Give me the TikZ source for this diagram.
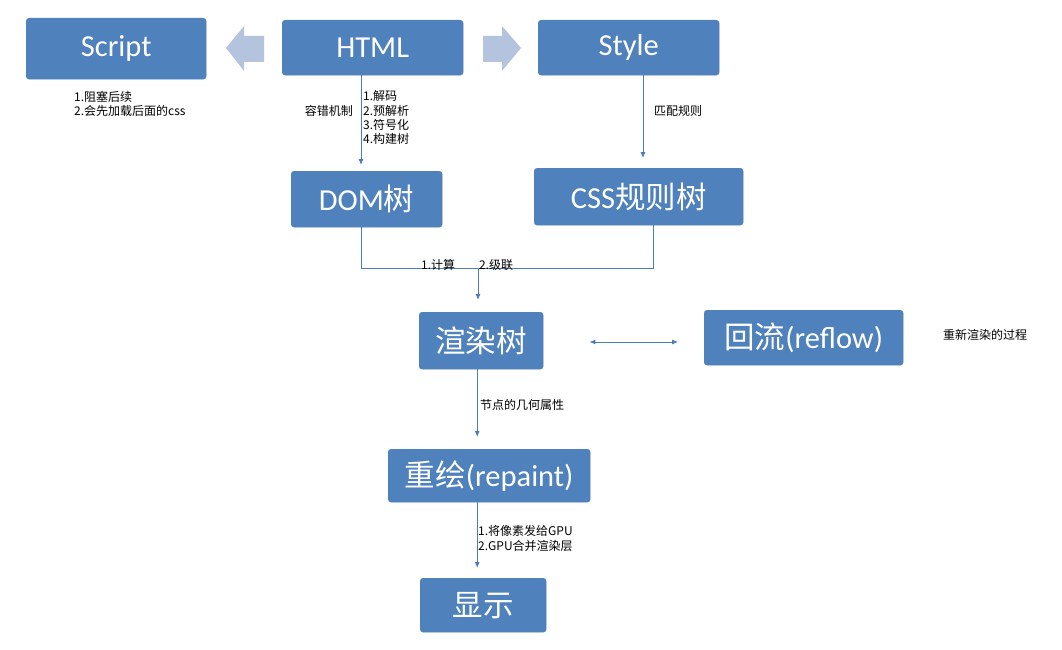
\documentclass[tikz,border=0pt]{standalone}
\usepackage{fontspec}
\setmainfont{Carlito}
\newfontfamily\cjk{Noto Sans CJK SC}
\usetikzlibrary{arrows.meta,calc}
\definecolor{boxblue}{HTML}{4F81BD}
\definecolor{lineblue}{HTML}{4A7EBB}
\definecolor{arrowpale}{HTML}{B4C3DE}
\tikzset{
  box/.style={draw=boxblue, fill=boxblue, rounded corners=3pt, text=white,
    font=\fontsize{30.5}{33}\selectfont, inner sep=0pt, anchor=north west},
  conn/.style={draw=lineblue, line width=0.9pt, -{Latex[length=6pt,width=5pt]}},
  plain/.style={draw=lineblue, line width=0.9pt},
  small/.style={font=\cjk\fontsize{12}{14}\selectfont, inner sep=0pt, anchor=west, text=black},
}
\begin{document}
\begin{tikzpicture}[x=1pt,y=-1pt]
\useasboundingbox (0,0) rectangle (1062,650);
% boxes
\node[box, minimum width=180pt, minimum height=61pt] (script) at (26,18) {Script};
\node[box, minimum width=181pt, minimum height=55pt] (html) at (282,20) {HTML};
\node[box, minimum width=181pt, minimum height=55pt] (style) at (538,20) {Style};
\node[box, minimum width=151pt, minimum height=56pt] (dom) at (291,171) {DOM{\cjk 树}};
\node[box, minimum width=209pt, minimum height=57pt] (css) at (534,168) {CSS{\cjk 规则树}};
\node[box, minimum width=124pt, minimum height=57pt] (render) at (419,312) {\cjk 渲染树};
\node[box, minimum width=199pt, minimum height=55pt] (reflow) at (704,310) {{\cjk 回流}(reflow)};
\node[box, minimum width=202pt, minimum height=53pt] (repaint) at (388,449) {{\cjk 重绘}(repaint)};
\node[box, minimum width=126pt, minimum height=54pt] (show) at (420,578) {\cjk 显示};
% block arrows
\fill[arrowpale] (226,48) -- (244,26) -- (244,36) -- (264,36) -- (264,62) -- (244,62) -- (244,71) -- cycle;
\fill[arrowpale] (521,48) -- (502,26) -- (502,36) -- (483,36) -- (483,62) -- (502,62) -- (502,71) -- cycle;
% helper coordinates
\coordinate (xa) at (361,0);
\coordinate (xb) at (643,0);
\coordinate (xc) at (653,0);
\coordinate (xd) at (478,0);
\coordinate (ya) at (0,268);
% connectors
\draw[conn, shorten >=6pt] (html.south -| xa) -- (dom.north -| xa);
\draw[conn, shorten >=10pt] (style.south -| xb) -- (css.north -| xb);
\draw[plain] (dom.south -| xa) -- (ya -| xa) -- (ya -| xc) -- (css.south -| xc);
\coordinate (join) at (ya -| xd);
\draw[conn, shorten >=12pt] (join) -- (render.north -| xd);
\draw[draw=lineblue, line width=0.9pt, {Latex[length=6pt,width=5pt]}-{Latex[length=6pt,width=5pt]}, shorten <=46pt, shorten >=26pt] (render.east |- 0,342) -- (reflow.west |- 0,342);
\draw[conn, shorten >=12pt] ($(render.south)+(-4,0)$) -- ($(repaint.north)+(-12,0)$);
\draw[conn, shorten >=10pt] ($(repaint.south)+(-12,0)$) -- ($(show.north)+(-6,0)$);
% small labels
\node[small] (s1) at (74,97) {1.阻塞后续};
\node[small] (s2) at (74,111) {2.会先加载后面的css};
\node[small, anchor=east] (h0) at (353,111) {容错机制};
\node[small] (h1) at (363,96) {1.解码};
\node[small] (h2) at (363,111) {2.预解析};
\node[small] (h3) at (363,125) {3.符号化};
\node[small] (h4) at (363,139) {4.构建树};
\node[small] (m1) at (654,111) {匹配规则};
\node[small] (j1) at (421,265) {1.计算};
\node[small] (j2) at (479,265) {2.级联};
\node[small] (r1) at (943,335) {重新渲染的过程};
\node[small] (g1) at (480,405) {节点的几何属性};
\node[small] (p1) at (478,531) {1.将像素发给GPU};
\node[small] (p2) at (478,546) {2.GPU合并渲染层};
\end{tikzpicture}
\end{document}
